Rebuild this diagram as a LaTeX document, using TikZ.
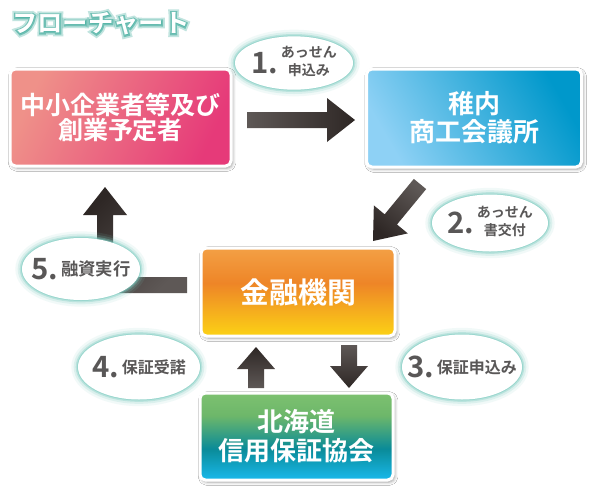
\documentclass[tikz,border=0pt]{standalone}
\usepackage{fontspec}
\newfontfamily\jp{Noto Sans CJK JP}[BoldFont={Noto Sans CJK JP Bold}]
\newfontfamily\glowA{Noto Sans CJK JP Bold}[FakeBold=26]
\newfontfamily\glowB{Noto Sans CJK JP Bold}[FakeBold=12]
\usetikzlibrary{arrows.meta,shadows.blur,shapes.geometric}
\definecolor{pinkL}{HTML}{EF9189}
\definecolor{pinkD}{HTML}{E63A79}
\definecolor{blueL}{HTML}{8ED1F5}
\definecolor{blueM}{HTML}{12B3E9}
\definecolor{blueD}{HTML}{0098CB}
\definecolor{orT}{HTML}{F3A045}
\definecolor{orM}{HTML}{EE8527}
\definecolor{orB}{HTML}{FCD215}
\definecolor{grT}{HTML}{7DC170}
\definecolor{grM}{HTML}{6DB76A}
\definecolor{grD}{HTML}{0A8B98}
\definecolor{grB}{HTML}{19B9EC}
\definecolor{arrL}{HTML}{5E5856}
\definecolor{arrD}{HTML}{2E2725}
\definecolor{glowc}{HTML}{7CCBC0}
\definecolor{titleglowc}{HTML}{4FB2A4}
\definecolor{lblgray}{HTML}{595757}
\pgfdeclareverticalshading{orangeshade}{100bp}{color(0bp)=(orB); color(25bp)=(orB); color(55bp)=(orM); color(75bp)=(orT); color(100bp)=(orT)}
\pgfdeclareverticalshading{greenshade}{100bp}{color(0bp)=(grB); color(25bp)=(grB); color(43bp)=(grD); color(62bp)=(grM); color(75bp)=(grT); color(100bp)=(grT)}
\newcommand\bnum[1]{$\vcenter{\hbox{\fontsize{22}{22}\selectfont #1}}$}
\newcommand\lblstack[3]{$\vcenter{\hbox{\fontsize{#1}{#2}\selectfont\begin{tabular}{@{}c@{}}#3\end{tabular}}}$}
\newcommand\lblline[2]{$\vcenter{\hbox{\fontsize{#1}{#1}\selectfont #2}}$}
\begin{document}
\begin{tikzpicture}[x=0.75pt,y=-0.75pt,
 box/.style={draw=white, line width=2.25pt, rounded corners=4pt, text=white, font=\jp\bfseries, align=center, inner sep=0pt,
   blur shadow={shadow xshift=1.2pt, shadow yshift=-1.5pt, shadow blur radius=2.5pt, shadow opacity=40}},
 bubble/.style={ellipse, fill=white, inner sep=0pt,
   preaction={draw=glowc, line width=10pt, draw opacity=0.1},
   preaction={draw=glowc, line width=6.5pt, draw opacity=0.18},
   preaction={draw=glowc, line width=3.5pt, draw opacity=0.35},
   preaction={draw=glowc, line width=1.5pt, draw opacity=0.5}},
 bubtext/.style={text=lblgray, font=\jp\bfseries, inner sep=0pt},
 ttlbase/.style={anchor=west, inner sep=0pt}
]
\useasboundingbox[fill=white] (0,0) rectangle (590,490);

% title with glow
\node[ttlbase, text=titleglowc, opacity=0.35, font=\glowA\fontsize{19}{19}\selectfont] (tglowouter) at (12,24) {フローチャート};
\node[ttlbase, text=titleglowc, opacity=0.7, font=\glowB\fontsize{19}{19}\selectfont] (tglowinner) at (12,24) {フローチャート};
\node[ttlbase, text=white, font=\jp\bfseries\fontsize{19}{19}\selectfont] (title) at (12,24) {フローチャート};

% boxes
\node[box, minimum width=165.75pt, minimum height=72.75pt, left color=pinkL, right color=pinkD, shading angle=65,
  font=\jp\bfseries\fontsize{18.75}{19}\selectfont] (applicant) at (120.5,117.5) {中小企業者等及び\\創業予定者};
\node[box, minimum width=161.25pt, minimum height=73.5pt, left color=blueL, middle color=blueM, right color=blueD, shading angle=120,
  font=\jp\bfseries\fontsize{19.5}{21}\selectfont] (chamber) at (474,118) {稚内\\商工会議所};
\node[box, minimum width=145.5pt, minimum height=66pt, shading=orangeshade,
  font=\jp\bfseries\fontsize{21.75}{22}\selectfont] (bank) at (298,292) {金融機関};
\node[box, minimum width=144.75pt, minimum height=65.25pt, shading=greenshade,
  font=\jp\bfseries\fontsize{19.5}{21.75}\selectfont] (guarantee) at (296.5,436.5) {北海道\\信用保証協会};

% arrows (block arrows with gradient)
\coordinate (a1s) at (247,120); \coordinate (a1e) at (355,120);
\coordinate (a2s) at (420,184); \coordinate (a2e) at (373,241);
\coordinate (a5s) at (187,285); \coordinate (a5e) at (105,187);
\coordinate (a4s) at (256,388); \coordinate (a4e) at (256,347);
\coordinate (a3s) at (349,345); \coordinate (a3e) at (349,388);
\shade[left color=arrL, right color=arrD]
  ([shift={(0,-8)}]a1s) -- ([shift={(-28,-8)}]a1e) -- ([shift={(-28,-22)}]a1e) -- (a1e)
  -- ([shift={(-28,22)}]a1e) -- ([shift={(-28,8)}]a1e) -- ([shift={(0,8)}]a1s) -- cycle;
\shade[top color=arrL, bottom color=arrD, shading angle=-40]
  ([shift={(-6.17,-5.09)}]a2s) -- ([shift={(11.64,-26.69)}]a2e) -- ([shift={(0.84,-35.60)}]a2e) -- (a2e)
  -- ([shift={(34.79,-7.60)}]a2e) -- ([shift={(23.98,-16.51)}]a2e) -- ([shift={(6.17,5.09)}]a2s) -- cycle;
\shade[top color=arrD, bottom color=arrL, shading angle=45]
  ([shift={(0,-8)}]a5s) -- ([shift={(8,90)}]a5e) -- ([shift={(8,28)}]a5e) -- ([shift={(22,28)}]a5e) -- (a5e)
  -- ([shift={(-22,28)}]a5e) -- ([shift={(-8,28)}]a5e) -- ([shift={(-8,106)}]a5e) -- ([shift={(0,8)}]a5s) -- cycle;
\shade[top color=arrD, bottom color=arrL]
  ([shift={(-8,0)}]a4s) -- ([shift={(-8,22)}]a4e) -- ([shift={(-19,22)}]a4e) -- (a4e)
  -- ([shift={(19,22)}]a4e) -- ([shift={(8,22)}]a4e) -- ([shift={(8,0)}]a4s) -- cycle;
\shade[top color=arrL, bottom color=arrD]
  ([shift={(-8,0)}]a3s) -- ([shift={(-8,-22)}]a3e) -- ([shift={(-19,-22)}]a3e) -- (a3e)
  -- ([shift={(19,-22)}]a3e) -- ([shift={(8,-22)}]a3e) -- ([shift={(8,0)}]a3s) -- cycle;

% bubbles
\node[bubble, minimum width=88.5pt, minimum height=40pt] (b1) at (294,63) {};
\node[bubtext] (t1) at (b1) {\bnum{1.}\kern2pt\lblstack{10.5}{13}{あっせん\\申込み}};
\node[bubble, minimum width=87pt, minimum height=42.75pt] (b2) at (490,223) {};
\node[bubtext] (t2) at (b2) {\bnum{2.}\kern2pt\lblstack{10.5}{13}{あっせん\\書交付}};
\node[bubble, minimum width=88.5pt, minimum height=46.5pt] (b5) at (81,269) {};
\node[bubtext] (t5) at (b5) {\bnum{5.}\kern2pt\lblline{13}{融資実行}};
\node[bubble, minimum width=91.5pt, minimum height=48.75pt] (b4) at (139,367) {};
\node[bubtext] (t4) at (b4) {\bnum{4.}\kern2pt\lblline{12}{保証受諾}};
\node[bubble, minimum width=90pt, minimum height=48.75pt] (b3) at (462,367) {};
\node[bubtext] (t3) at (b3) {\bnum{3.}\kern2pt\lblline{12}{保証申込み}};
\end{tikzpicture}
\end{document}
